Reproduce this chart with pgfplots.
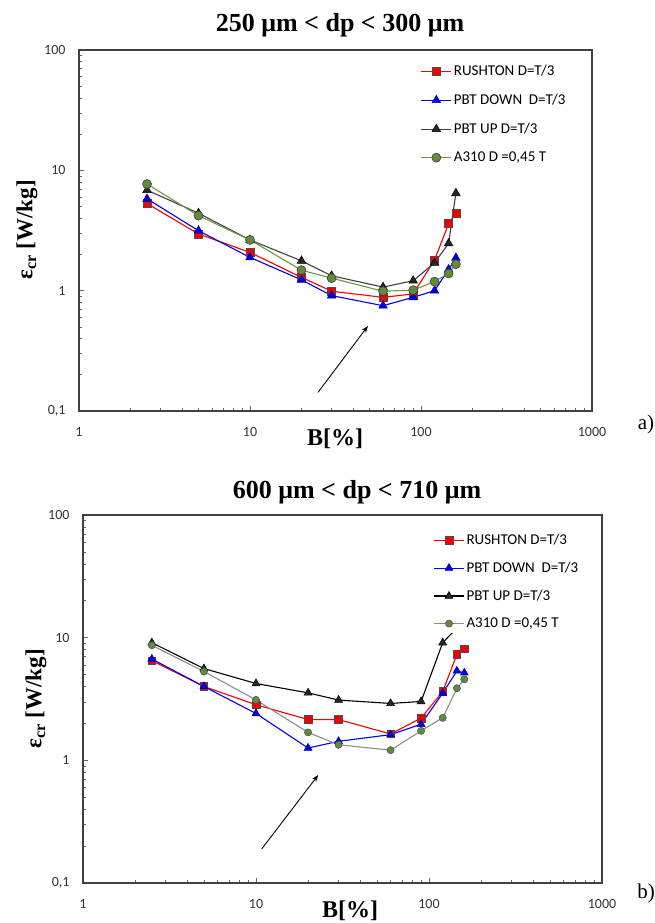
\documentclass[border=0pt]{standalone}
\usepackage{fontspec}
\setmainfont{Liberation Serif}
\newfontfamily\carl{Carlito}
\usepackage{pgfplots}
\pgfplotsset{compat=1.18}
\usetikzlibrary{arrows.meta}

\definecolor{mkgreen}{RGB}{95,140,60}
\definecolor{lngreen}{RGB}{105,150,65}
\definecolor{mkred}{RGB}{240,0,0}
\definecolor{mkblue}{RGB}{0,0,230}

\tikzset{
 rush/.style={mkred, line width=1.1bp, mark=square*, mark size=4bp, mark options={solid, fill=mkred, draw=black!70, line width=0.6bp}},
 pdown/.style={mkblue, line width=1.1bp, mark=triangle*, mark size=5bp, mark options={solid, fill=mkblue, draw=mkblue!70!black, line width=0.5bp}},
 pup/.style={black!75, line width=1.1bp, mark=triangle*, mark size=5bp, mark options={solid, fill=black!85, draw=black, line width=0.5bp}},
}

\pgfplotsset{legend image code/.code={\draw[mark repeat=2,mark phase=2,#1] plot coordinates {(0bp,0bp)(15bp,0bp)(30bp,0bp)};}}

\begin{document}
\begin{tikzpicture}
\path[use as bounding box] (0,0) rectangle (655bp,-923bp);

% ---------- top ----------
\begin{axis}[xmode=log, ymode=log, scale only axis,
  xmin=1,xmax=1000,ymin=0.1,ymax=100,
  xtick={1,10,100,1000}, xticklabels={1,10,100,1000},
  ytick={0.1,1,10,100}, yticklabels={{0,1},1,10,100},
  minor xtick={2,3,4,5,6,7,8,9,20,30,40,50,60,70,80,90,200,300,400,500,600,700,800,900},
  minor ytick={0.2,0.3,0.4,0.5,0.6,0.7,0.8,0.9,2,3,4,5,6,7,8,9,20,30,40,50,60,70,80,90},
  tick align=inside, xtick pos=left, ytick pos=left,
  major tick length=5bp, minor tick length=3.5bp,
  tick style={black!60, line width=0.6bp},
  axis line style={black!75,line width=1.3bp},
  ticklabel style={font=\carl\fontsize{14bp}{16bp}\selectfont, text=black!80},
  xticklabel style={yshift=-13bp},
  yticklabel style={xshift=-10bp},
  legend cell align=left,
  legend style={draw=none, fill=white, font=\carl\fontsize{15bp}{17bp}\selectfont, row sep=13bp, anchor=north west, inner sep=2bp, at={(0.662,0.969)}},
  at={(79bp,-411bp)}, anchor=south west, width=513bp, height=361bp]
\addplot[rush] coordinates {(2.5,5.3)(5,2.96)(10,2.08)(20,1.29)(30,0.99)(60,0.88)(90,0.94)(120,1.8)(145,3.6)(160,4.4)};
\addlegendentry{RUSHTON D=T/3}
\addplot[pdown] coordinates {(2.5,5.8)(5,3.15)(10,1.89)(20,1.23)(30,0.91)(60,0.75)(90,0.88)(120,1.0)(145,1.5)(160,1.87)};
\addlegendentry{PBT DOWN\ \ D=T/3}
\addplot[pup] coordinates {(2.5,6.85)(5,4.4)(10,2.64)(20,1.77)(30,1.33)(60,1.07)(90,1.21)(120,1.7)(145,2.47)(160,6.45)};
\addlegendentry{PBT UP D=T/3}
\addplot[lngreen, line width=1.1bp, mark=*, mark size=4.5bp, mark options={solid, fill=mkgreen, draw=black!75, line width=0.6bp}] coordinates {(2.5,7.7)(5,4.2)(10,2.64)(20,1.48)(30,1.27)(60,0.99)(90,1.01)(120,1.19)(145,1.39)(160,1.66)};
\addlegendentry{A310 D =0,45 T}
\draw[-{Stealth[length=7bp,width=5bp]}, line width=0.9bp, black] (axis cs:25,0.143) -- (axis cs:49,0.51);
\end{axis}

% ---------- bottom ----------
\begin{axis}[xmode=log, ymode=log, scale only axis,
  xmin=1,xmax=1000,ymin=0.1,ymax=100,
  xtick={1,10,100,1000}, xticklabels={1,10,100,1000},
  ytick={0.1,1,10,100}, yticklabels={{0,1},1,10,100},
  minor xtick={2,3,4,5,6,7,8,9,20,30,40,50,60,70,80,90,200,300,400,500,600,700,800,900},
  minor ytick={0.2,0.3,0.4,0.5,0.6,0.7,0.8,0.9,2,3,4,5,6,7,8,9,20,30,40,50,60,70,80,90},
  tick align=inside, xtick pos=left, ytick pos=left,
  major tick length=5bp, minor tick length=3.5bp,
  tick style={black!60, line width=0.6bp},
  axis line style={black!75,line width=1.3bp},
  ticklabel style={font=\carl\fontsize{14bp}{16bp}\selectfont, text=black!80},
  xticklabel style={yshift=-13bp},
  yticklabel style={xshift=-10bp},
  legend cell align=left,
  legend style={draw=none, fill=white, font=\carl\fontsize{15bp}{17bp}\selectfont, row sep=12bp, anchor=north west, inner sep=2bp, at={(0.671,0.959)}},
  at={(83bp,-883bp)}, anchor=south west, width=519bp, height=368bp]
\addplot[black, line width=1.1bp, forget plot] coordinates {(120,9.1)(145,12)};
\addplot[rush, mark size=3.8bp] coordinates {(2.5,6.5)(5,4.0)(10,2.84)(20,2.15)(30,2.15)(60,1.64)(90,2.21)(120,3.64)(145,7.3)(160,8.1)};
\addlegendentry{RUSHTON D=T/3}
\addplot[pdown, mark size=4.6bp] coordinates {(2.5,6.7)(5,4.0)(10,2.41)(20,1.26)(30,1.43)(60,1.62)(90,1.97)(120,3.53)(145,5.36)(160,5.16)};
\addlegendentry{PBT DOWN\ \ D=T/3}
\addplot[pup, black, mark size=4.6bp] coordinates {(2.5,9.1)(5,5.6)(10,4.23)(20,3.55)(30,3.1)(60,2.91)(90,3.02)(120,9.1)};
\addlegendentry{PBT UP D=T/3}
\addplot[black!45, line width=1.1bp, mark=*, mark size=3.6bp, mark options={solid, fill=mkgreen, draw=black!70, line width=0.5bp}] coordinates {(2.5,8.67)(5,5.3)(10,3.11)(20,1.69)(30,1.34)(60,1.21)(90,1.74)(120,2.22)(145,3.87)(160,4.58)};
\addlegendentry{A310 D =0,45 T}
\draw[-{Stealth[length=7bp,width=5bp]}, line width=0.9bp, black] (axis cs:10.8,0.19) -- (axis cs:22.9,0.76);
\end{axis}

% ---------- texts ----------
\node[font=\bfseries\fontsize{26bp}{30bp}\selectfont] at (340bp,-25bp) {250 μm < dp < 300 μm};
\node[font=\bfseries\fontsize{26bp}{30bp}\selectfont] at (357bp,-492bp) {600 μm < dp < 710 μm};
\node[font=\bfseries\fontsize{24bp}{28bp}\selectfont] at (335bp,-439bp) {B[\%]};
\node[font=\bfseries\fontsize{24bp}{28bp}\selectfont] at (350bp,-911bp) {B[\%]};
\node[rotate=90, font=\bfseries\fontsize{23bp}{27bp}\selectfont] at (27bp,-230bp) {ε\textsubscript{cr} [W/kg]};
\node[rotate=90, font=\bfseries\fontsize{23bp}{27bp}\selectfont] at (36bp,-699bp) {ε\textsubscript{cr} [W/kg]};
\node[font=\fontsize{21bp}{24bp}\selectfont] at (646bp,-424bp) {a)};
\node[font=\fontsize{21bp}{24bp}\selectfont] at (646bp,-893bp) {b)};
\end{tikzpicture}
\end{document}
